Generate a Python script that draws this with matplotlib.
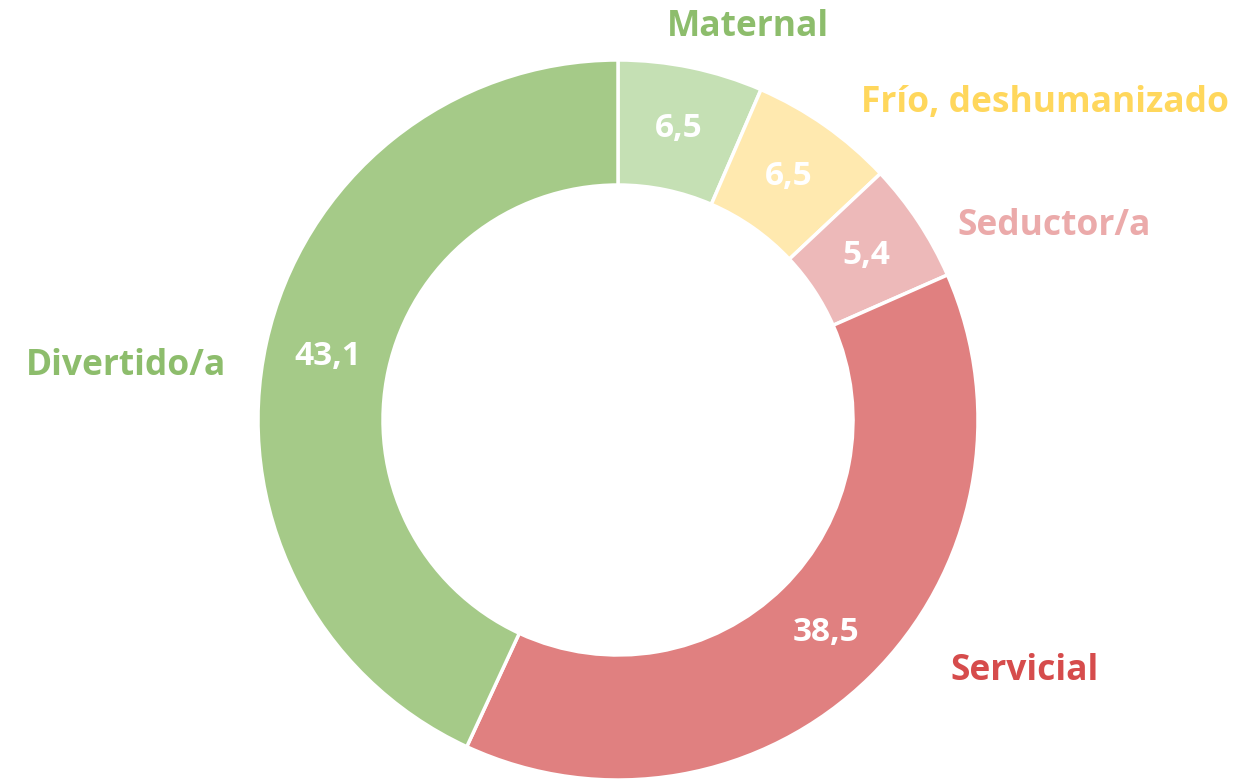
import matplotlib
matplotlib.use("Agg")
import matplotlib.pyplot as plt
import numpy as np

categories = ["Maternal", "Frío, deshumanizado", "Seductor/a", "Servicial", "Divertido/a"]
values = [6.5, 6.5, 5.4, 38.5, 43.1]
value_labels = ["6,5", "6,5", "5,4", "38,5", "43,1"]
slice_colors = ["#c5e0b4", "#ffe9af", "#edb9b9", "#e08080", "#a5ca88"]
label_colors = ["#8dbd6c", "#ffd75c", "#ebaaaa", "#d64c4c", "#8dbd6c"]
# label positions (pixel coords of text centers)
label_pos = [(748, 27), (1045, 103), (1054, 226), (1025, 671), (126, 366)]

W, H = 1238, 779
cx, cy = 618, 420
R, r_in = 360, 235

fig = plt.figure(figsize=(W / 100, H / 100), dpi=100)
ax = fig.add_axes([0, 0, 1, 1])
ax.set_aspect("equal")
ax.axis("off")

wedges, _ = ax.pie(values, colors=slice_colors, startangle=90, counterclock=False,
                   radius=R, center=(0, 0),
                   wedgeprops=dict(width=R - r_in, edgecolor="white", linewidth=2.5))
ax.set_xlim(-cx, W - cx)
ax.set_ylim(-(H - cy), cy)

fam = ["Open Sans", "DejaVu Sans"]
rm = (R + r_in) / 2
for w, vl in zip(wedges, value_labels):
    ang = np.deg2rad((w.theta1 + w.theta2) / 2)
    ax.text(rm * np.cos(ang), rm * np.sin(ang), vl, color="white", fontsize=24,
            fontweight="bold", family=fam, ha="center", va="center")

for name, col, (px, py) in zip(categories, label_colors, label_pos):
    ax.text(px - cx, cy - py, name, color=col, fontsize=25.5, fontweight="bold",
            family=fam, ha="center", va="center")

fig.savefig("out.png", dpi=100)
